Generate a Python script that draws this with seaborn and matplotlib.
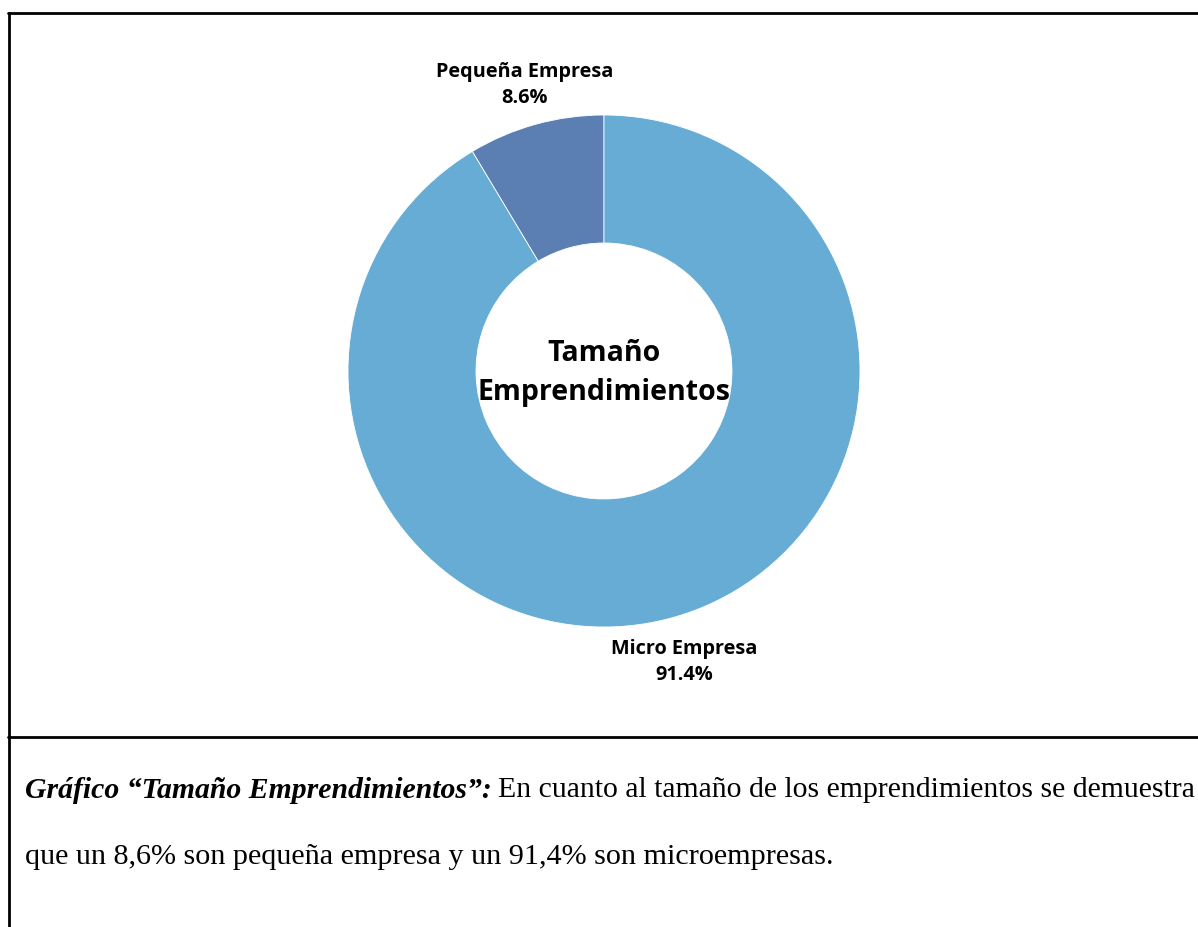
import matplotlib
matplotlib.use("Agg")
import matplotlib.pyplot as plt
from matplotlib.lines import Line2D
import seaborn as sns

# data
categorias = ["Pequeña Empresa", "Micro Empresa"]
porcentajes = [8.6, 91.4]
colores = ["#5B7FB3", "#67ACD5"]
titulo_centro = "Tamaño\nEmprendimientos"

sns.set_theme(style="white")
plt.rcParams['font.family'] = ['Open Sans', 'DejaVu Sans']

W, H = 1198, 928
fig = plt.figure(figsize=(W / 100, H / 100), dpi=100)
fig.patch.set_facecolor("white")

def fx(x):
    return x / W

def fy(y):
    return 1 - y / H

# donut: centro (604, 372), radio 256 px
cx, cy, r = 604, 372, 256
ax = fig.add_axes([fx(cx - r), fy(cy + r), 2 * r / W, 2 * r / H])
ax.pie(porcentajes, colors=colores, startangle=90, counterclock=True,
       radius=1, wedgeprops=dict(width=0.5, edgecolor="white", linewidth=0.6))
ax.set_xlim(-1, 1)
ax.set_ylim(-1, 1)
ax.set_aspect("equal")
ax.axis("off")

# texto central
fig.text(fx(cx), fy(373), titulo_centro, ha="center", va="center",
         fontsize=20.5, fontweight="bold", color="black", linespacing=1.42)

# etiquetas de las porciones
pos_etiquetas = [(525, 85), (684, 662)]
for cat, val, (px, py) in zip(categorias, porcentajes, pos_etiquetas):
    fig.text(fx(px), fy(py), f"{cat}\n{val:.1f}%", ha="center", va="center",
             fontsize=14.3, fontweight="bold", color="black", linespacing=1.38)

# marco de la tabla
lw = 2.0
fig.add_artist(Line2D([fx(8), fx(W)], [fy(14), fy(14)], color="black", lw=lw))
fig.add_artist(Line2D([fx(9), fx(9)], [fy(14), fy(H)], color="black", lw=lw))
fig.add_artist(Line2D([fx(8), fx(W)], [fy(738), fy(738)], color="black", lw=lw))

# pie de grafico
serif = ['Liberation Serif', 'DejaVu Serif']
fig.text(fx(25), fy(790), "Gráfico “Tamaño Emprendimientos”:", ha="left", va="center",
         fontsize=21.4, fontweight="bold", fontstyle="italic", family=serif, color="black")
fig.text(fx(498), fy(790),
         "En cuanto al tamaño de los emprendimientos se demuestra",
         ha="left", va="center", fontsize=21.4, family=serif, color="black")
fig.text(fx(25), fy(857),
         "que un 8,6% son pequeña empresa y un 91,4% son microempresas.",
         ha="left", va="center", fontsize=21.7, family=serif, color="black")

fig.savefig("out.png", dpi=100, facecolor="white")
